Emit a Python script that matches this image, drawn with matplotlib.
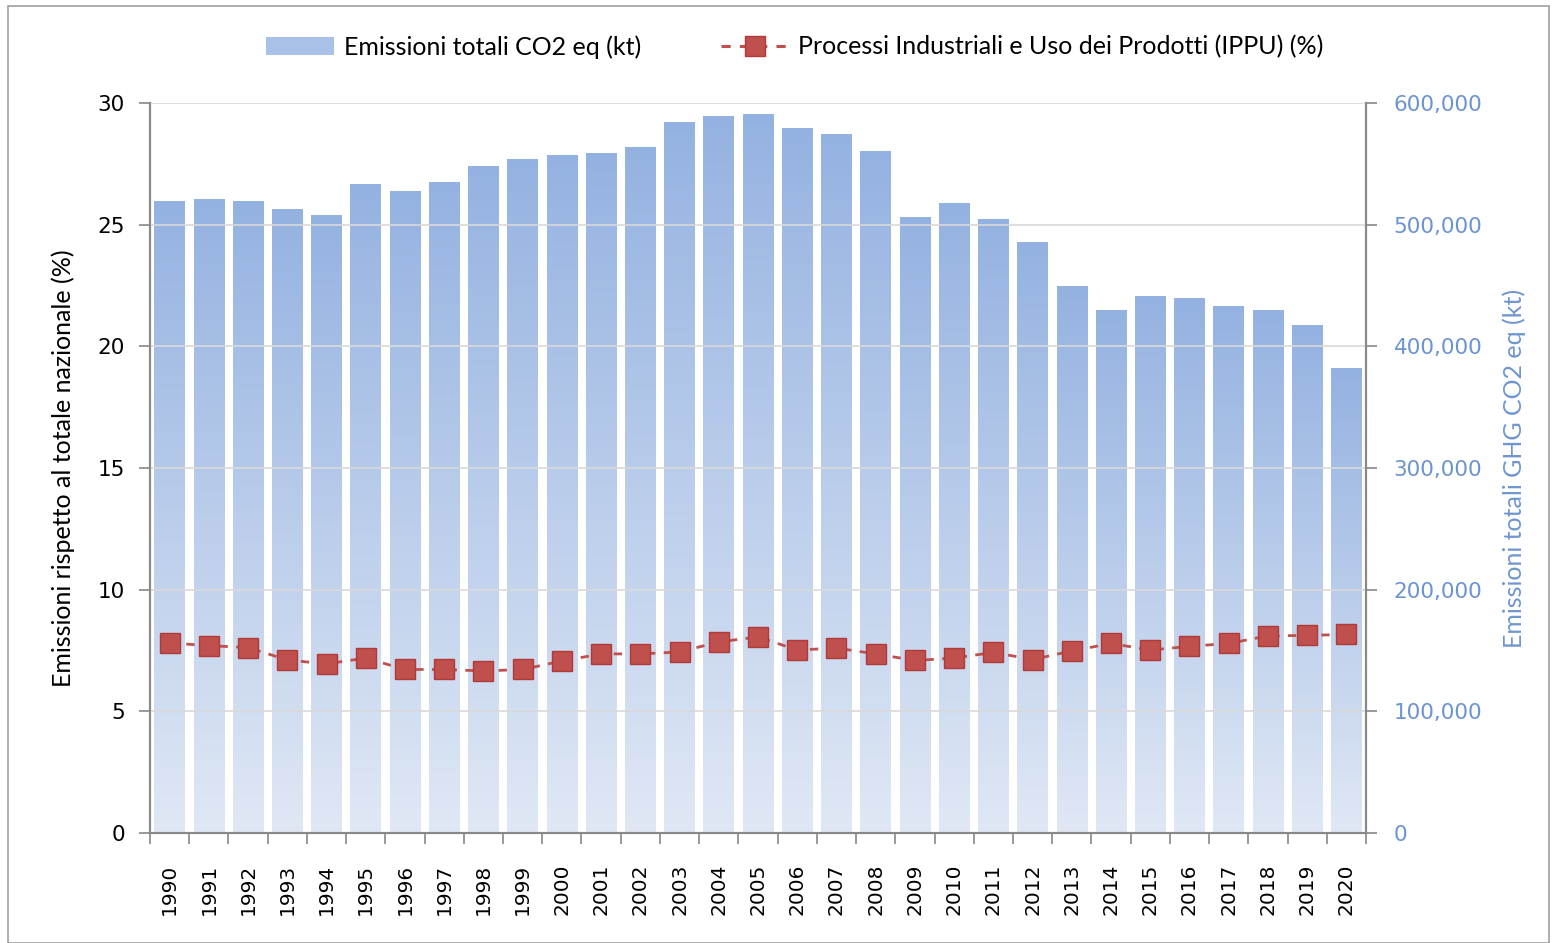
import matplotlib
matplotlib.use("Agg")
import matplotlib.pyplot as plt
import numpy as np
from matplotlib.patches import Rectangle
from matplotlib.lines import Line2D
from matplotlib.colors import LinearSegmentedColormap
from matplotlib.ticker import FuncFormatter, MultipleLocator, FixedLocator

years = [str(y) for y in range(1990, 2021)]
total_kt = [519500, 521100, 519500, 512900, 508000, 533400, 527700, 535100, 548200, 554000,
            557300, 558900, 563800, 584400, 589300, 591000, 579500, 574500, 560500, 506300,
            517800, 504700, 485800, 449600, 429900, 441400, 439700, 433200, 429900, 417500,
            382200]
ippu_pct = [7.81, 7.70, 7.62, 7.11, 6.95, 7.19, 6.72, 6.72, 6.66, 6.72,
            7.07, 7.36, 7.36, 7.44, 7.85, 8.06, 7.52, 7.60, 7.36, 7.09,
            7.19, 7.42, 7.13, 7.48, 7.79, 7.52, 7.67, 7.79, 8.10, 8.12, 8.16]

label_font = ["Lato", "DejaVu Sans"]

fig = plt.figure(figsize=(15.57, 9.43), dpi=100)
fig.patches.append(Rectangle((8/1557, 0), 1 - 16/1557, 1 - 6/943, transform=fig.transFigure,
                             fill=False, edgecolor="#a0a0a0", linewidth=1.2))
ax = fig.add_axes([150/1557, 1 - 833/943, 1216/1557, 730/943])
ax2 = ax.twinx()
ax.set_zorder(ax2.get_zorder() + 1)
ax.patch.set_visible(False)

x = np.arange(len(years))
cmap = LinearSegmentedColormap.from_list("g", ["#e0e8f5", "#94b2e1"])
bars = ax2.bar(x, total_kt, width=0.78, color="none", edgecolor="none", zorder=2)
grad = np.linspace(0, 1, 256).reshape(-1, 1)
for b in bars:
    x0, w, h = b.get_x(), b.get_width(), b.get_height()
    im = ax2.imshow(grad, cmap=cmap, origin="lower", aspect="auto",
                    extent=(x0, x0 + w, 0, h), zorder=2)
    im.set_clip_path(b)
ax2.set_xlim(-0.5, len(years) - 0.5)
ax2.set_ylim(0, 600000)
ax2.yaxis.set_major_locator(MultipleLocator(100000))
ax2.yaxis.set_major_formatter(FuncFormatter(lambda v, p: f"{int(v):,}"))
ax2.tick_params(axis="y", labelcolor="#6a94d0", labelsize=15.5, length=8, width=1.2,
                pad=12, color="#888888")
ax2.set_ylabel("Emissioni totali GHG CO2 eq (kt)", fontsize=18, color="#6f96d0",
               family=label_font, labelpad=14)

ax.plot(x, ippu_pct, linestyle="--", color="#c0504d", linewidth=2.0,
        marker="s", markersize=15, markerfacecolor="#c0504d", markeredgecolor="#b03a37",
        markeredgewidth=1, zorder=5, dashes=(3, 3))
ax.set_xlim(-0.5, len(years) - 0.5)
ax.set_ylim(0, 30)
ax.yaxis.set_major_locator(MultipleLocator(5))
ax.grid(axis="y", color="#d9d9d9", linewidth=1.2, zorder=0)
ax2.grid(False)
ax.set_axisbelow(True)
ax.set_xticks(x)
ax.set_xticklabels(years, rotation=90, fontsize=14.5)
ax.xaxis.set_minor_locator(FixedLocator(np.arange(-0.5, len(years), 1)))
ax.tick_params(axis="x", which="major", length=0, pad=22)
ax.tick_params(axis="x", which="minor", length=8, width=1.2, color="#888888")
ax.tick_params(axis="y", labelsize=15.5, length=8, width=1.2, color="#888888", pad=10)
ax.set_ylabel("Emissioni rispetto al totale nazionale (%)", fontsize=18,
              family=label_font, labelpad=16)

for a in (ax, ax2):
    a.spines["top"].set_visible(False)
    for s in ("left", "right", "bottom"):
        a.spines[s].set_color("#888888")
        a.spines[s].set_linewidth(1.5)

h1 = Rectangle((0, 0), 1, 1, facecolor="#a9c0e8", edgecolor="none")
h2 = Line2D([], [], linestyle="--", color="#c0504d", linewidth=2.2, dashes=(3, 3),
            marker="s", markersize=15, markerfacecolor="#c0504d", markeredgecolor="#b03a37")
fig.legend([h1, h2], ["Emissioni totali CO2 eq (kt)", "Processi Industriali e Uso dei Prodotti (IPPU) (%)"],
           loc="center", bbox_to_anchor=(795/1557, 1 - 47/943), ncol=2, frameon=False,
           prop={"family": label_font, "size": 18}, handlelength=2.7, columnspacing=3.2,
           handletextpad=0.4)

fig.savefig("out.png", dpi=100)
